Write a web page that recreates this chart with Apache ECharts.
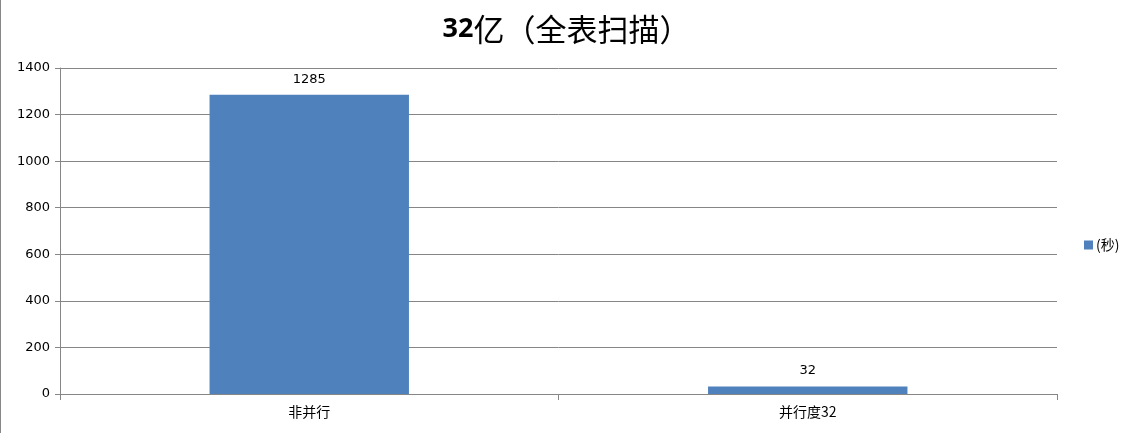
<!DOCTYPE html>
<html>
<head>
<meta charset="utf-8">
<script src="https://cdn.jsdelivr.net/npm/echarts@6/dist/echarts.min.js"></script>
<style>
html, body { margin: 0; padding: 0; background: #fff; }
#chart { width: 1132px; height: 433px; border-left: 1px solid #888; box-sizing: border-box; }
</style>
</head>
<body>
<div id="chart"></div>
<script>
var categories = ['非并行', '并行度32'];
var seconds = [1285, 32];
var seriesName = '(秒)';
var titleNum = '32';
var titleRest = '亿（全表扫描）';

var myChart = echarts.init(document.getElementById('chart'));
var font = '"Noto Sans CJK SC", "DejaVu Sans", sans-serif';
var option = {
	backgroundColor: '#fff',
	animation: false,
	title: {
		text: '{b|' + titleNum + '}{r|' + titleRest + '}',
		left: 'center',
		top: 9,
		textStyle: {
			rich: {
				b: {
					fontFamily: '"Noto Sans", sans-serif',
					fontSize: 27,
					fontWeight: 'bold',
					color: '#000'
				},
				r: {
					fontFamily: font,
					fontSize: 31,
					fontWeight: 'normal',
					color: '#000'
				}
			}
		}
	},
	legend: {
		orient: 'vertical',
		left: 1078,
		top: 233,
		itemWidth: 9,
		itemHeight: 9,
		itemGap: 4,
		icon: 'rect',
		textStyle: {
			fontFamily: font,
			fontSize: 14,
			color: '#000',
			padding: [0, 0, 0, -2]
		},
		data: [seriesName]
	},
	grid: {
		left: 59,
		right: 75,
		top: 68,
		bottom: 39,
		containLabel: false
	},
	xAxis: {
		type: 'category',
		data: categories,
		axisLine: { lineStyle: { color: '#868686' } },
		axisTick: { show: true, length: 6, lineStyle: { color: '#868686' } },
		axisLabel: {
			fontFamily: font,
			fontSize: 14,
			color: '#000',
			margin: 11
		}
	},
	yAxis: {
		type: 'value',
		min: 0,
		max: 1400,
		interval: 200,
		axisLine: { show: true, lineStyle: { color: '#868686' } },
		axisTick: { show: true, length: 5, lineStyle: { color: '#868686' } },
		splitLine: { lineStyle: { color: '#868686' } },
		axisLabel: {
			fontFamily: '"DejaVu Sans", sans-serif',
			fontSize: 13,
			color: '#000',
			margin: 10,
			formatter: function (v) { return String(v); }
		}
	},
	series: [
		{
			name: seriesName,
			type: 'bar',
			barWidth: '40%',
			itemStyle: { color: '#4F81BD' },
			label: {
				show: true,
				position: 'top',
				distance: 9,
				fontFamily: '"DejaVu Sans", sans-serif',
				fontSize: 13,
				color: '#000'
			},
			data: seconds
		}
	]
};
myChart.setOption(option);
</script>
</body>
</html>
